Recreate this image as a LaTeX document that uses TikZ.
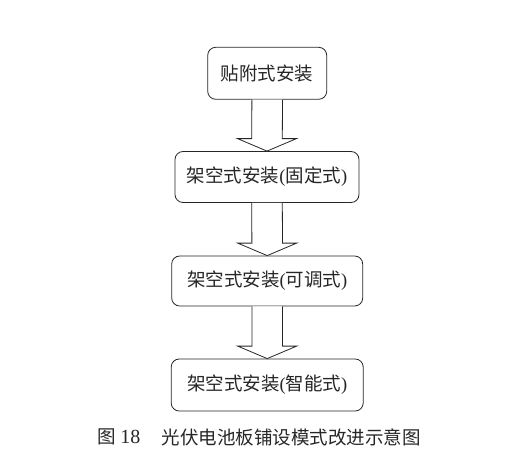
\documentclass[tikz,border=0pt]{standalone}
\usepackage{fontspec}
\setmainfont{Liberation Serif}
\newfontfamily\cjk{Noto Sans CJK SC}
\usetikzlibrary{calc}
\newcommand\lpar{{\normalfont(}}
\newcommand\rpar{{\normalfont)}}
\tikzset{
  box/.style={draw=black!85, line width=0.8pt, rounded corners=8pt, fill=white,
    font=\fontsize{18.5}{22}\selectfont\cjk, text=black!85, inner sep=0pt},
  blockarr/.style={draw=black!85, line width=0.8pt, fill=white, line join=miter},
  captext/.style={font=\fontsize{18.5}{22}\selectfont, text=black!85, anchor=west, inner sep=0pt}
}
\begin{document}
\begin{tikzpicture}[x=1pt,y=-1pt]
\useasboundingbox (0,0) rectangle (518,473);
\node[box, minimum width=119pt, minimum height=52pt] (b1) at (267.2,73.3) {贴附式安装};
\node[box, minimum width=184pt, minimum height=51pt] (b2) at (267,177) {架空式安装\lpar 固定式\rpar};
\node[box, minimum width=191pt, minimum height=50pt] (b3) at (267.2,281) {架空式安装\lpar 可调式\rpar};
\node[box, minimum width=192pt, minimum height=52pt] (b4) at (267.2,385) {架空式安装\lpar 智能式\rpar};
\foreach \a/\b in {b1/b2, b2/b3, b3/b4}{
  \draw[blockarr] ($(\a.south)+(-15.3,0)$) -- ($(\b.north)+(-15.3,-12.5)$) -- ($(\b.north)+(-29.5,-12.5)$)
    -- (\b.north) -- ($(\b.north)+(29.5,-12.5)$) -- ($(\b.north)+(15.3,-12.5)$) -- ($(\a.south)+(15.3,0)$);
}
\node[captext] (c1) at (97,437) {{\cjk 图} {\fontsize{20}{22}\selectfont 18}};
\node[captext] (c2) at (161.7,437) {\cjk 光伏电池板铺设模式改进示意图};
\end{tikzpicture}
\end{document}
